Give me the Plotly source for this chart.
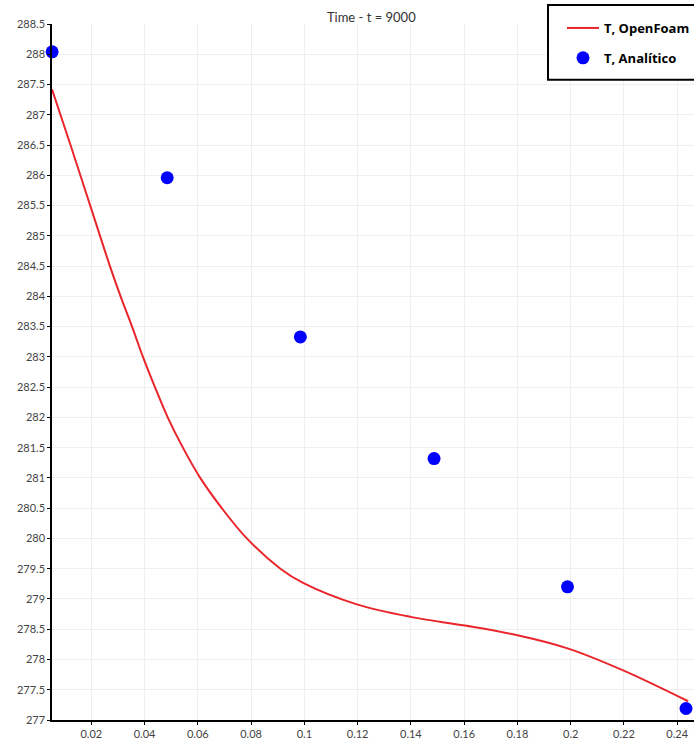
import plotly.graph_objects as go

# OpenFOAM temperature profile along the domain at t = 9000
x_openfoam = [0.00525, 0.0122, 0.0196, 0.0270, 0.0310, 0.0353, 0.0394, 0.0439,
              0.0487, 0.0544, 0.0609, 0.0690, 0.0784, 0.0910, 0.0997, 0.1197,
              0.1403, 0.1603, 0.1800, 0.1991, 0.2197, 0.2441]
t_openfoam = [287.42, 286.50, 285.50, 284.50, 284.00, 283.50, 283.00, 282.50,
              282.00, 281.50, 281.00, 280.50, 280.00, 279.50, 279.26, 278.91,
              278.70, 278.56, 278.40, 278.18, 277.82, 277.31]

# Analytical solution sample points
x_analitico = [0.0053, 0.0485, 0.0985, 0.1487, 0.1988, 0.2433]
t_analitico = [288.04, 285.96, 283.33, 281.32, 279.20, 277.19]

title_text = "Time - t = 9000"
name_openfoam = "T, OpenFoam"
name_analitico = "T, Analítico"

fig = go.Figure()
fig.add_trace(go.Scatter(
    x=x_openfoam, y=t_openfoam, mode="lines", name=name_openfoam,
    line=dict(color="#e8262b", width=2, shape="spline", smoothing=1.0),
    legendgroup="a",
))
fig.add_trace(go.Scatter(
    x=x_analitico, y=t_analitico, mode="markers", name=name_analitico,
    marker=dict(color="#0000ff", size=13),
    cliponaxis=False, legendgroup="b",
))

tick_font = dict(family="Lato, DejaVu Sans, sans-serif", size=11, color="#444444")

# framed white box behind the legend entries
fig.add_shape(
    type="rect", xref="paper", yref="paper",
    x0=0.7726, x1=1.03, y0=0.9198, y1=1.0272,
    fillcolor="white", line=dict(color="black", width=2), layer="above",
)

fig.update_layout(
    width=694, height=740,
    margin=dict(l=52, r=0, t=24, b=20, autoexpand=False),
    paper_bgcolor="white", plot_bgcolor="white",
    title=dict(text=title_text, x=0.535, xanchor="center", y=0.977, yanchor="middle",
               font=dict(family="Lato, DejaVu Sans, sans-serif", size=13, color="#333333")),
    showlegend=True,
    legend=dict(
        x=(562 - 52) / 642, xanchor="left", y=1.0158, yanchor="top",
        bgcolor="rgba(0,0,0,0)", borderwidth=0,
        font=dict(family="Open Sans, sans-serif", size=13, color="black", weight="bold"),
        tracegroupgap=10, itemwidth=32,
    ),
    xaxis=dict(
        range=[0.00525, 0.2463], tick0=0, dtick=0.02,
        showgrid=True, gridcolor="#efefef", gridwidth=1,
        showline=True, linecolor="black", linewidth=1.5,
        ticks="outside", ticklen=3, tickcolor="black",
        tickfont=tick_font, zeroline=False,
    ),
    yaxis=dict(
        range=[277, 288.5], tick0=277, dtick=0.5,
        showgrid=True, gridcolor="#efefef", gridwidth=1,
        showline=True, linecolor="black", linewidth=1.5,
        ticks="outside", ticklen=3, tickcolor="black",
        tickfont=tick_font, zeroline=False,
    ),
)

fig.write_html("out.html")
